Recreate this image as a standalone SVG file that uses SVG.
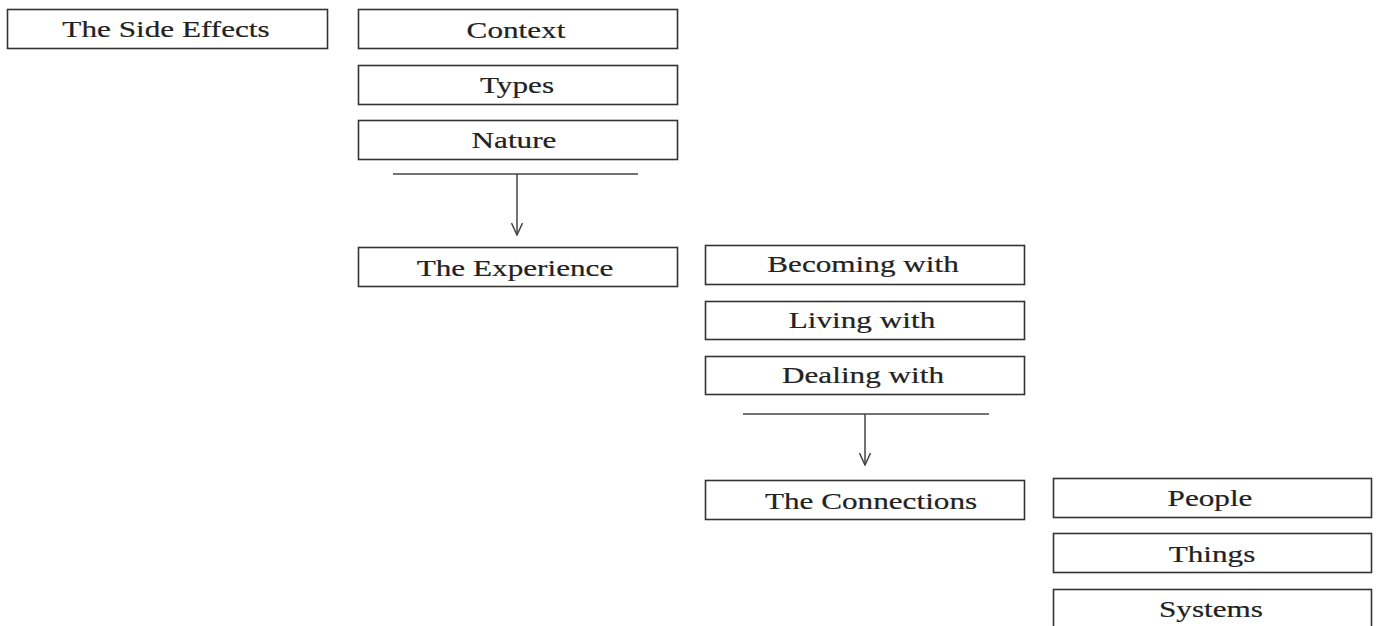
<svg xmlns="http://www.w3.org/2000/svg" width="1377" height="626" viewBox="0 0 1377 626">
<style>
.box{fill:#fff;stroke:#333;stroke-width:1.6}
.lbl{font-family:"Liberation Serif","Times New Roman",serif;font-size:24px;fill:#222;stroke:#222;stroke-width:0.2;text-anchor:middle}
.con{fill:none;stroke:#444;stroke-width:1.5}
</style>
<defs>
<marker id="arr" viewBox="0 0 14 12" refX="13" refY="6" markerWidth="14" markerHeight="12" markerUnits="userSpaceOnUse" orient="auto">
<path d="M1,0.5 L13,6 L1,11.5" fill="none" stroke="#444" stroke-width="1.5"/>
</marker>
</defs>
<rect width="1377" height="626" fill="#fff"/>
<g id="connectors">
<line class="con" x1="393" y1="174" x2="638" y2="174"/>
<line class="con" x1="517" y1="174" x2="517" y2="235" marker-end="url(#arr)"/>
<line class="con" x1="743" y1="414" x2="989" y2="414"/>
<line class="con" x1="865" y1="414" x2="865" y2="465" marker-end="url(#arr)"/>
</g>
<g id="side-effects"><rect class="box" x="7.5" y="9.5" width="320" height="39"/><text class="lbl" transform="translate(166,37) scale(1.3,1)">The Side Effects</text></g>
<g id="context"><rect class="box" x="358.5" y="9.5" width="319" height="39"/><text class="lbl" transform="translate(516,38) scale(1.3,1)">Context</text></g>
<g id="types"><rect class="box" x="358.5" y="65.5" width="319" height="39"/><text class="lbl" transform="translate(517,93) scale(1.3,1)">Types</text></g>
<g id="nature"><rect class="box" x="358.5" y="120.5" width="319" height="39"/><text class="lbl" transform="translate(514,148) scale(1.3,1)">Nature</text></g>
<g id="experience"><rect class="box" x="358.5" y="247.5" width="319" height="39"/><text class="lbl" transform="translate(515,276) scale(1.3,1)">The Experience</text></g>
<g id="becoming"><rect class="box" x="705.5" y="245.5" width="319" height="39"/><text class="lbl" transform="translate(863,272) scale(1.3,1)">Becoming with</text></g>
<g id="living"><rect class="box" x="705.5" y="301.5" width="319" height="38"/><text class="lbl" transform="translate(862,328) scale(1.3,1)">Living  with</text></g>
<g id="dealing"><rect class="box" x="705.5" y="356.5" width="319" height="38"/><text class="lbl" transform="translate(863,383) scale(1.3,1)">Dealing  with</text></g>
<g id="connections"><rect class="box" x="705.5" y="480.5" width="319" height="39"/><text class="lbl" transform="translate(871,509) scale(1.3,1)">The Connections</text></g>
<g id="people"><rect class="box" x="1053.5" y="478.5" width="318" height="39"/><text class="lbl" transform="translate(1210,506) scale(1.3,1)">People</text></g>
<g id="things"><rect class="box" x="1053.5" y="533.5" width="318" height="39"/><text class="lbl" transform="translate(1212,562) scale(1.3,1)">Things</text></g>
<g id="systems"><rect class="box" x="1053.5" y="589.5" width="318" height="39"/><text class="lbl" transform="translate(1211,617) scale(1.3,1)">Systems</text></g>
</svg>
